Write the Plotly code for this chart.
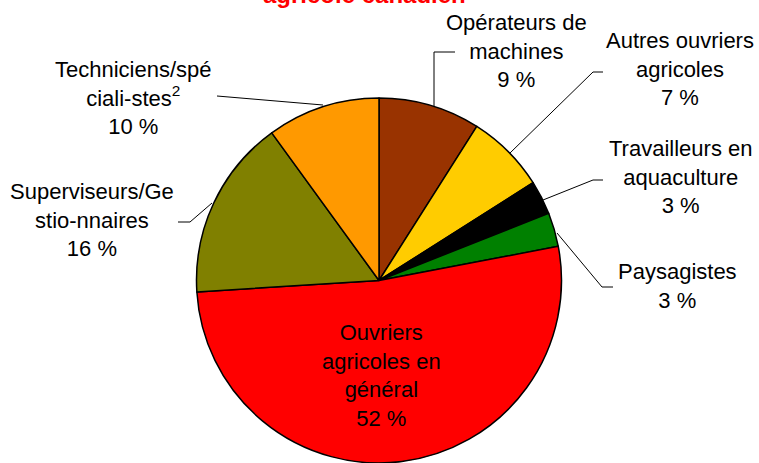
import plotly.graph_objects as go

# ---- data ----
categories = [
    "Opérateurs de machines",
    "Autres ouvriers agricoles",
    "Travailleurs en aquaculture",
    "Paysagistes",
    "Ouvriers agricoles en général",
    "Superviseurs/Gestionnaires",
    "Techniciens/spécialistes",
]
label_text = [
    "Opérateurs de<br>machines",
    "Autres ouvriers<br>agricoles",
    "Travailleurs en<br>aquaculture",
    "Paysagistes",
    "Ouvriers<br>agricoles en<br>général",
    "Superviseurs/Ge<br>stio-nnaires",
    "Techniciens/spé<br>ciali-stes<sup>2</sup>",
]
values = [9, 7, 3, 3, 52, 16, 10]
colors = ["#993300", "#FFCC00", "#000000", "#008000", "#FF0000", "#808000", "#FF9900"]
title_text = "agricole canadien"

W, H = 759, 463


def px(x, y):
    return x / W, 1 - y / H


fig = go.Figure(
    go.Pie(
        labels=categories,
        values=values,
        sort=False,
        direction="clockwise",
        rotation=0,
        marker=dict(colors=colors, line=dict(color="black", width=1.5)),
        textinfo="none",
        hoverinfo="label+percent",
        showlegend=False,
        domain=dict(x=[196 / W, 562 / W], y=[0, 1 - 98 / H]),
    )
)

# label positions (pixel centres) and leader lines
label_pos = [(516, 51), (680, 69), (680, 177), (677, 286), (381, 375), (92, 220), (133, 98)]
leaders = [
    [(455, 52), (434, 52), (434, 107)],
    [(603, 72), (593, 72), (510, 153)],
    [(603, 180), (593, 180), (543, 200)],
    [(613, 287), (602, 287), (557, 233)],
    None,
    [(178, 222), (190, 222), (212, 203)],
    [(217, 96), (323, 105)],
]

annotations = []
for txt, v, (x, y) in zip(label_text, values, label_pos):
    xp, yp = px(x, y)
    annotations.append(
        dict(
            x=xp, y=yp, xref="paper", yref="paper",
            text=f"{txt}<br>{v} %",
            showarrow=False,
            font=dict(family="Liberation Sans, Arial, sans-serif", size=22, color="black"),
            align="center", xanchor="center", yanchor="middle",
        )
    )

tx, ty = px(364, -5.5)
annotations.append(
    dict(
        x=tx, y=ty, xref="paper", yref="paper",
        text=f"<b>{title_text}</b>",
        showarrow=False,
        font=dict(family="Liberation Sans, Arial, sans-serif", size=24, color="#FF0000"),
        xanchor="center", yanchor="middle",
    )
)

shapes = []
for pts in leaders:
    if not pts:
        continue
    path = ""
    for i, (x, y) in enumerate(pts):
        xp, yp = px(x, y)
        path += ("M" if i == 0 else "L") + f"{xp},{yp} "
    shapes.append(
        dict(type="path", xref="paper", yref="paper", path=path.strip(),
             line=dict(color="black", width=1))
    )

fig.update_layout(
    width=W, height=H,
    margin=dict(l=0, r=0, t=0, b=0),
    paper_bgcolor="white",
    plot_bgcolor="white",
    annotations=annotations,
    shapes=shapes,
)

fig.write_html(
    "out.html",
    config={"displayModeBar": False},
    post_script="document.body.style.margin='0';document.body.style.overflow='hidden';",
)
